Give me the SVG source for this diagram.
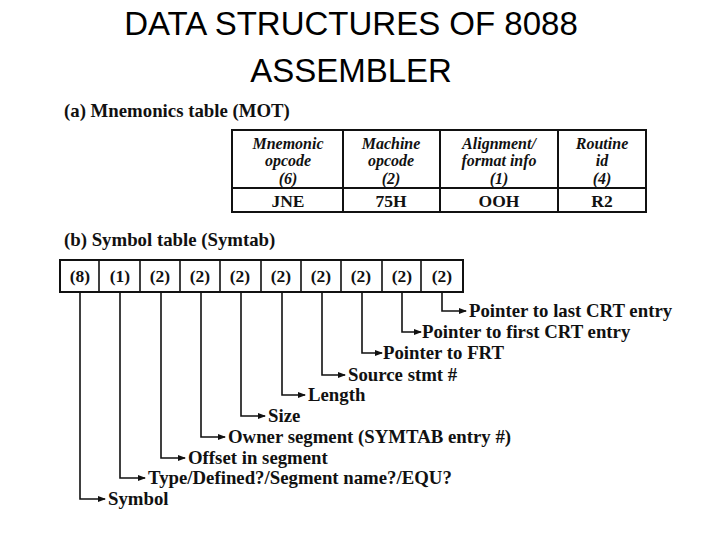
<svg xmlns="http://www.w3.org/2000/svg" width="720" height="540" viewBox="0 0 720 540">
<style>
.t{font-family:"Liberation Sans",Arial,sans-serif;font-size:33px;fill:#000;text-anchor:middle}
.s{font-family:"Liberation Serif","Times New Roman",serif;font-weight:bold;font-size:18.8px;fill:#111}
.h{font-family:"Liberation Serif","Times New Roman",serif;font-style:italic;font-weight:bold;font-size:16px;fill:#111;text-anchor:middle}
.c{text-anchor:middle;font-size:17.5px}
.b{fill:none;stroke:#111;stroke-width:2}
.l{fill:none;stroke:#111;stroke-width:1.6}
</style>
<defs><marker id="a" markerWidth="8" markerHeight="6" refX="7" refY="3" orient="auto" markerUnits="userSpaceOnUse"><path d="M0,0 L8,3 L0,6 z" fill="#111"/></marker></defs>
<rect width="720" height="540" fill="#fff"/>
<text class="t" x="351" y="35">DATA STRUCTURES OF 8088</text>
<text class="t" x="351" y="82">ASSEMBLER</text>
<text class="s" x="64" y="117">(a) Mnemonics table (MOT)</text>
<g id="mot">
<rect class="b" x="232" y="130" width="414" height="82"/>
<path class="b" d="M232,188H646M343,130V212M440,130V212M558,130V212"/>
<text class="h" x="288" y="149">Mnemonic</text><text class="h" x="288" y="166">opcode</text><text class="h" x="288" y="184" font-style="normal">(6)</text>
<text class="h" x="391" y="149">Machine</text><text class="h" x="391" y="166">opcode</text><text class="h" x="391" y="184" font-style="normal">(2)</text>
<text class="h" x="499" y="149">Alignment/</text><text class="h" x="499" y="166">format info</text><text class="h" x="499" y="184" font-style="normal">(1)</text>
<text class="h" x="602" y="149">Routine</text><text class="h" x="602" y="166">id</text><text class="h" x="602" y="184" font-style="normal">(4)</text>
<text class="s c" x="288" y="207">JNE</text><text class="s c" x="391" y="207">75H</text><text class="s c" x="499" y="207">OOH</text><text class="s c" x="602" y="207">R2</text>
</g>
<text class="s" x="64" y="246">(b) Symbol table (Symtab)</text>
<g id="symtab">
<rect class="b" x="60" y="260" width="403" height="32"/>
<path class="l" d="M99,260V292M140,260V292M180,260V292M220,260V292M261,260V292M301,260V292M341,260V292M382,260V292M421,260V292"/>
<text class="s c" x="80" y="282">(8)</text><text class="s c" x="120" y="282">(1)</text><text class="s c" x="160" y="282">(2)</text><text class="s c" x="200" y="282">(2)</text><text class="s c" x="240" y="282">(2)</text><text class="s c" x="281" y="282">(2)</text><text class="s c" x="321" y="282">(2)</text><text class="s c" x="361" y="282">(2)</text><text class="s c" x="402" y="282">(2)</text><text class="s c" x="442" y="282">(2)</text>
</g>
<g id="connectors">
<path class="l" marker-end="url(#a)" d="M442,292V311H466"/>
<path class="l" marker-end="url(#a)" d="M402,292V332H421"/>
<path class="l" marker-end="url(#a)" d="M362,292V353H382"/>
<path class="l" marker-end="url(#a)" d="M322,292V375H345"/>
<path class="l" marker-end="url(#a)" d="M282,292V395H305"/>
<path class="l" marker-end="url(#a)" d="M241,292V416H265"/>
<path class="l" marker-end="url(#a)" d="M201,292V437H225"/>
<path class="l" marker-end="url(#a)" d="M161,292V458H185"/>
<path class="l" marker-end="url(#a)" d="M120,292V478H145"/>
<path class="l" marker-end="url(#a)" d="M80,292V499H105"/>
</g>
<g id="labels">
<text class="s" x="469" y="317">Pointer to last CRT entry</text>
<text class="s" x="422" y="338">Pointer to first CRT entry</text>
<text class="s" x="383" y="359">Pointer to FRT</text>
<text class="s" x="348" y="381">Source stmt #</text>
<text class="s" x="308" y="401">Length</text>
<text class="s" x="268" y="422">Size</text>
<text class="s" x="228" y="443">Owner segment (SYMTAB entry #)</text>
<text class="s" x="188" y="464">Offset in segment</text>
<text class="s" x="148" y="484">Type/Defined?/Segment name?/EQU?</text>
<text class="s" x="108" y="505">Symbol</text>
</g>
</svg>
